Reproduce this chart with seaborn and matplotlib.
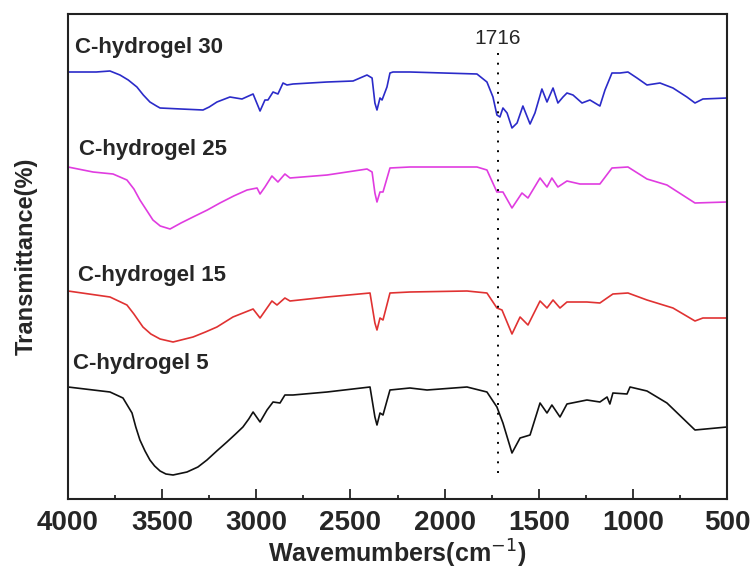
import matplotlib
matplotlib.use("Agg")
import matplotlib.pyplot as plt
from matplotlib.ticker import MultipleLocator
import numpy as np
import pandas as pd
import seaborn as sns

# FTIR spectra (wavenumber in cm-1, transmittance in arbitrary stacked units)
wn_30 = [4000, 3850, 3777, 3724, 3680, 3634, 3600, 3565, 3530, 3511, 3400, 3283, 3250, 3209, 3140,
         3076, 3017, 2980, 2954, 2938, 2911, 2885, 2858, 2837, 2805, 2624, 2486, 2412, 2385, 2370,
         2359, 2343, 2332, 2306, 2290, 2274, 2184, 1828, 1775, 1743, 1722, 1706, 1690, 1668, 1642,
         1615, 1584, 1546, 1520, 1483, 1456, 1424, 1398, 1371, 1350, 1318, 1270, 1228, 1175, 1148,
         1111, 1068, 1026, 978, 925, 856, 787, 713, 670, 628, 500]
t_30 = [427, 427, 428, 424, 419, 412, 404, 397, 393, 391, 390, 389, 392, 397, 402,
        400, 405, 388, 399, 399, 407, 405, 416, 414, 415, 417, 418, 424, 421, 396,
        389, 401, 399, 412, 426, 427, 427, 425, 417, 402, 384, 382, 391, 386, 371,
        376, 393, 375, 386, 410, 397, 411, 396, 402, 406, 404, 396, 399, 393, 409,
        426, 426, 427, 421, 414, 416, 411, 402, 396, 400, 401]

wn_25 = [4000, 3867, 3761, 3687, 3650, 3618, 3580, 3549, 3510, 3458, 3400, 3336, 3260, 3193, 3120,
         3049, 2996, 2980, 2954, 2917, 2885, 2848, 2821, 2624, 2412, 2385, 2370, 2359, 2343, 2327,
         2290, 2184, 1828, 1775, 1722, 1690, 1642, 1589, 1557, 1493, 1456, 1430, 1398, 1350, 1281,
         1175, 1111, 1026, 925, 819, 670, 500]
t_25 = [332, 327, 325, 319, 310, 299, 288, 279, 273, 270, 276, 282, 289, 296, 303,
        309, 311, 305, 312, 323, 317, 325, 321, 324, 330, 327, 306, 297, 307, 307,
        331, 332, 332, 329, 307, 307, 291, 306, 301, 321, 312, 321, 312, 318, 315,
        315, 331, 332, 320, 314, 296, 297]

wn_15 = [4000, 3777, 3687, 3650, 3602, 3560, 3511, 3442, 3336, 3270, 3209, 3124, 3017, 2980, 2943,
         2917, 2890, 2848, 2821, 2624, 2396, 2370, 2359, 2343, 2327, 2290, 2184, 1881, 1775, 1722,
         1695, 1642, 1599, 1557, 1493, 1456, 1424, 1387, 1350, 1244, 1175, 1137, 1106, 1026, 925,
         787, 670, 628, 500]
t_15 = [208, 202, 194, 185, 172, 165, 160, 157, 162, 167, 172, 182, 190, 181, 191,
        198, 194, 201, 198, 202, 206, 176, 169, 181, 179, 206, 207, 208, 206, 191,
        189, 165, 182, 174, 198, 191, 199, 191, 197, 197, 196, 201, 205, 206, 199,
        191, 178, 181, 181]

wn_5 = [4000, 3777, 3708, 3660, 3640, 3618, 3591, 3565, 3540, 3511, 3480, 3442, 3368, 3310, 3262,
        3210, 3156, 3110, 3071, 3040, 3017, 2980, 2943, 2911, 2874, 2848, 2805, 2624, 2396, 2370,
        2359, 2343, 2327, 2290, 2184, 2093, 1881, 1775, 1722, 1690, 1642, 1599, 1546, 1493, 1456,
        1430, 1387, 1350, 1244, 1175, 1137, 1122, 1106, 1031, 1015, 925, 819, 670, 500]
t_5 = [112, 107, 101, 86, 72, 59, 48, 39, 33, 28, 25, 24, 27, 32, 39,
       48, 57, 65, 72, 80, 87, 77, 89, 97, 96, 104, 104, 107, 112, 82,
       74, 86, 84, 109, 111, 109, 112, 107, 92, 76, 46, 61, 64, 96, 86,
       94, 82, 95, 99, 97, 102, 95, 106, 105, 112, 108, 96, 69, 72]

labels = ["C-hydrogel 30", "C-hydrogel 25", "C-hydrogel 15", "C-hydrogel 5"]
colors = ["#2b2bc9", "#e03ce0", "#e03232", "#111111"]
label_x = [3963, 3942, 3947, 3973]
label_y = [452, 349, 224, 136]

peak = 1716
peak_y = [26, 447]

sns.set_style("ticks")
plt.rcParams["font.family"] = ["Liberation Sans", "DejaVu Sans"]

fig = plt.figure(figsize=(7.54, 5.75), dpi=100)
ax = fig.add_axes([68 / 754, 1 - 499 / 575, 659 / 754, 485.5 / 575])

series = [(wn_30, t_30), (wn_25, t_25), (wn_15, t_15), (wn_5, t_5)]
for (wn, t), lab, col in zip(series, labels, colors):
    df = pd.DataFrame({"wn": wn, "t": t})
    sns.lineplot(data=df, x="wn", y="t", ax=ax, color=col, lw=1.2,
                 sort=False, estimator=None)

for lab, x, y in zip(labels, label_x, label_y):
    ax.text(x, y, lab, fontsize=16, fontweight="bold", ha="left", va="center")

ax.plot([peak, peak], peak_y, color="black", lw=1.4, linestyle=(0, (1, 4)))
ax.text(peak, 461, str(peak), fontsize=15, ha="center", va="center")

ax.set_xlim(4000, 500)
ax.set_ylim(0, 485.5)
ax.xaxis.set_major_locator(MultipleLocator(500))
ax.xaxis.set_minor_locator(MultipleLocator(250))
ax.set_yticks([])
ax.tick_params(axis="x", which="major", direction="in", length=7, width=1.3,
               labelsize=20, pad=8)
ax.tick_params(axis="x", which="minor", direction="in", length=3, width=1.3)
for lbl in ax.get_xticklabels():
    lbl.set_fontweight("bold")
for sp in ax.spines.values():
    sp.set_visible(True)
    sp.set_linewidth(1.5)
    sp.set_color("#222222")

ax.set_xlabel("Wavemumbers(cm$^{-1}$)", fontsize=18, fontweight="bold", labelpad=1)
ax.set_ylabel("Transmittance(%)", fontsize=17, fontweight="bold", labelpad=22)

fig.savefig("out.png", dpi=100)
